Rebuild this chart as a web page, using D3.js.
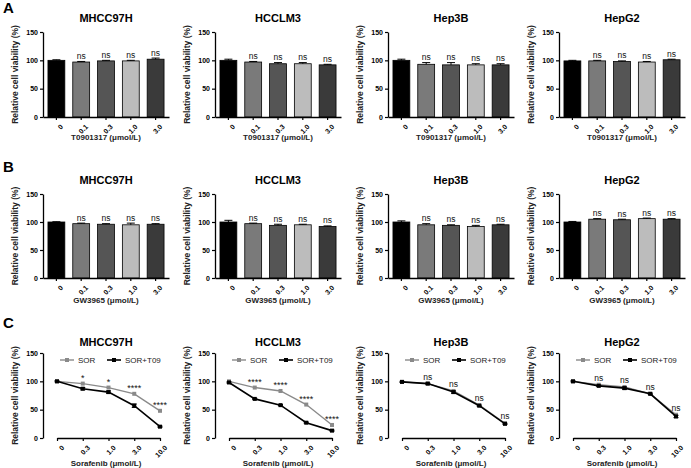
<!DOCTYPE html>
<html><head><meta charset="utf-8">
<script src="https://cdn.jsdelivr.net/npm/d3@7"></script>
<style>body{margin:0;background:#fff}svg{display:block}text{font-family:"Liberation Sans",Arial,sans-serif}</style>
</head><body>
<svg id="c" width="691" height="468"></svg>
<script>
const cellLines = ["MHCC97H","HCCLM3","Hep3B","HepG2"];
const barDoses = ["0","0.1","0.3","1.0","3.0"];
const sorDoses = ["0","0.3","1.0","3.0","10.0"];
const barColors = ["#000000","#7a7a7a","#555555","#bcbcbc","#3a3a3a"];
const yTicks = [0,50,100,150];

// Panel A: T0901317
const t09Values = [[100,97,99,99,102],[100,97,94,94,92],[100,93,92,92,92],[99,99,98,97,101]];
const t09Errors = [[1,1,1,1,2],[2,1,2,2,1],[2,3,4,2,2],[1,1,1,1,1]];
// Panel B: GW3965
const gwValues = [[100,97,96,95,96],[100,97,94,95,92],[100,95,94,92,95],[100,105,104,106,105]];
const gwErrors = [[0.5,1,1,3,1],[3,1,2,1,1],[2,2,1,2,1],[1,1,1,1,1]];
// Panel C: Sorafenib
const sorValues = [[100,96,89,78,48],[100,89,83,59,23],[99,96,83,58,26],[100,94,90,78,41]];
const sorT09Values = [[100,87,81,57,20],[98,69,58,27,13],[99,96,81,57,25],[100,92,88,78,38]];
const sorT09Errors = [[1,2,2,3,1],[1,1,1,1,1],[1,1,2,1,1],[1,1,2,1,2]];
const sigC = [["","*","*","****","****"],["","****","****","****","****"],["","ns","ns","ns","ns"],["","ns","ns","ns","ns"]];

const svg = d3.select("#c");
const panelLeft = [43,215,388,559];
const plotW = 126;
const rows = [
  {top:32,bottom:117,letter:"A",ly:13,titleY:22,xTitleY:140,xTitle:"T0901317 (μmol/L)",vals:t09Values,errs:t09Errors},
  {top:194,bottom:278,letter:"B",ly:172,titleY:184,xTitleY:303,xTitle:"GW3965 (μmol/L)",vals:gwValues,errs:gwErrors},
  {top:353,bottom:438,letter:"C",ly:328,titleY:346,xTitleY:466,xTitle:"Sorafenib (μmol/L)"}
];

function yAxisAndLabels(g,y,x0,r,ci){
  const ax = g.append("g").attr("transform",`translate(${x0},0)`).call(d3.axisLeft(y).tickValues(yTicks).tickSize(3).tickSizeOuter(0));
  ax.select(".domain").attr("stroke-width",1.3);
  ax.selectAll(".tick line").attr("stroke-width",1.2);
  ax.selectAll("text").attr("font-size",7).attr("font-weight","bold").attr("dx",1);
  g.append("text").attr("transform",`translate(${x0-25},${(r.top+r.bottom)/2}) rotate(-90)`)
    .attr("text-anchor","middle").attr("font-size",8.5).attr("font-weight","bold").attr("fill","#222").text("Relative cell viability (%)");
  g.append("text").attr("x",x0+plotW/2).attr("y",r.titleY).attr("text-anchor","middle")
    .attr("font-size",11).attr("font-weight","bold").text(cellLines[ci]);
  g.append("text").attr("x",x0+plotW/2).attr("y",r.xTitleY).attr("text-anchor","middle")
    .attr("font-size",8).attr("font-weight","bold").attr("fill","#222").text(r.xTitle);
}
function xAxis(g,x,r){
  const ax = g.append("g").attr("transform",`translate(0,${r.bottom})`).call(d3.axisBottom(x).tickSize(3).tickSizeOuter(0));
  ax.select(".domain").attr("stroke-width",1.3);
  ax.selectAll(".tick line").attr("stroke-width",1.2);
  ax.selectAll("text").attr("font-size",7).attr("font-weight","bold")
    .attr("text-anchor","end").attr("dy",0).attr("transform","translate(3,6) rotate(-45)");
}

rows.forEach((r,ri)=>{
  svg.append("text").attr("x",3).attr("y",r.ly).attr("font-size",15).attr("font-weight","bold").text(r.letter);
  cellLines.forEach((cl,ci)=>{
    const x0 = panelLeft[ci];
    const g = svg.append("g");
    const y = d3.scaleLinear().domain([0,150]).range([r.bottom,r.top]);
    if(ri<2){
      const x = d3.scaleBand().domain(barDoses).range([x0,x0+plotW]).paddingInner(0.32).paddingOuter(0.2);
      const vals = r.vals[ci], errs = r.errs[ci];
      barDoses.forEach((d,i)=>{
        const bx = x(d), bw = x.bandwidth(), cx = bx+bw/2;
        g.append("rect").attr("x",bx).attr("y",y(vals[i])).attr("width",bw).attr("height",y(0)-y(vals[i]))
          .attr("fill",barColors[i]).attr("stroke","#000").attr("stroke-width",0.8);
        const yt = y(vals[i]+errs[i]);
        g.append("line").attr("x1",cx).attr("x2",cx).attr("y1",y(vals[i])).attr("y2",yt).attr("stroke","#000").attr("stroke-width",1);
        g.append("line").attr("x1",cx-4).attr("x2",cx+4).attr("y1",yt).attr("y2",yt).attr("stroke","#000").attr("stroke-width",1);
        if(i>0) g.append("text").attr("x",cx).attr("y",yt-2.5).attr("text-anchor","middle").attr("font-size",8.5).attr("fill","#111").text("ns");
      });
      yAxisAndLabels(g,y,x0,r,ci);
      xAxis(g,x,r);
    } else {
      const x = d3.scalePoint().domain(sorDoses).range([x0+14,x0+plotW-9]);
      const series = [
        {vals:sorValues[ci],color:"#8a8a8a",w:1.4,name:"SOR"},
        {vals:sorT09Values[ci],color:"#000",w:1.6,name:"SOR+T09"}
      ];
      const line = d3.line().x((d,i)=>x(sorDoses[i])).y(d=>y(d));
      series.forEach(s=>{
        g.append("path").datum(s.vals).attr("d",line).attr("fill","none").attr("stroke",s.color).attr("stroke-width",s.w);
        s.vals.forEach((v,i)=>{
          g.append("rect").attr("x",x(sorDoses[i])-2).attr("y",y(v)-2).attr("width",4).attr("height",4).attr("fill",s.color);
        });
      });
      sorT09Values[ci].forEach((v,i)=>{
        const e = sorT09Errors[ci][i], cx=x(sorDoses[i]);
        g.append("line").attr("x1",cx-2.5).attr("x2",cx+2.5).attr("y1",y(v+e)).attr("y2",y(v+e)).attr("stroke","#000");
        g.append("line").attr("x1",cx-2.5).attr("x2",cx+2.5).attr("y1",y(v-e)).attr("y2",y(v-e)).attr("stroke","#000");
      });
      sigC[ci].forEach((s,i)=>{
        if(!s) return;
        const top = Math.max(sorValues[ci][i],sorT09Values[ci][i]);
        const isStar = s.startsWith("*");
        g.append("text").attr("x",x(sorDoses[i])).attr("y",y(top)-(isStar?3:4)).attr("text-anchor","middle")
          .attr("font-size",isStar?9:8.5).attr("fill","#111").text(s);
      });
      // legend
      const ly = 360;
      series.forEach((s,k)=>{
        const lx = x0 + 17 + k*47;
        g.append("line").attr("x1",lx).attr("x2",lx+14).attr("y1",ly).attr("y2",ly).attr("stroke",s.color).attr("stroke-width",s.w);
        g.append("rect").attr("x",lx+5).attr("y",ly-2).attr("width",4).attr("height",4).attr("fill",s.color);
        g.append("text").attr("x",lx+18).attr("y",ly+3).attr("font-size",8).attr("fill","#222").text(s.name);
      });
      yAxisAndLabels(g,y,x0,r,ci);
      xAxis(g,x,r);
    }
  });
});
</script>
</body></html>
